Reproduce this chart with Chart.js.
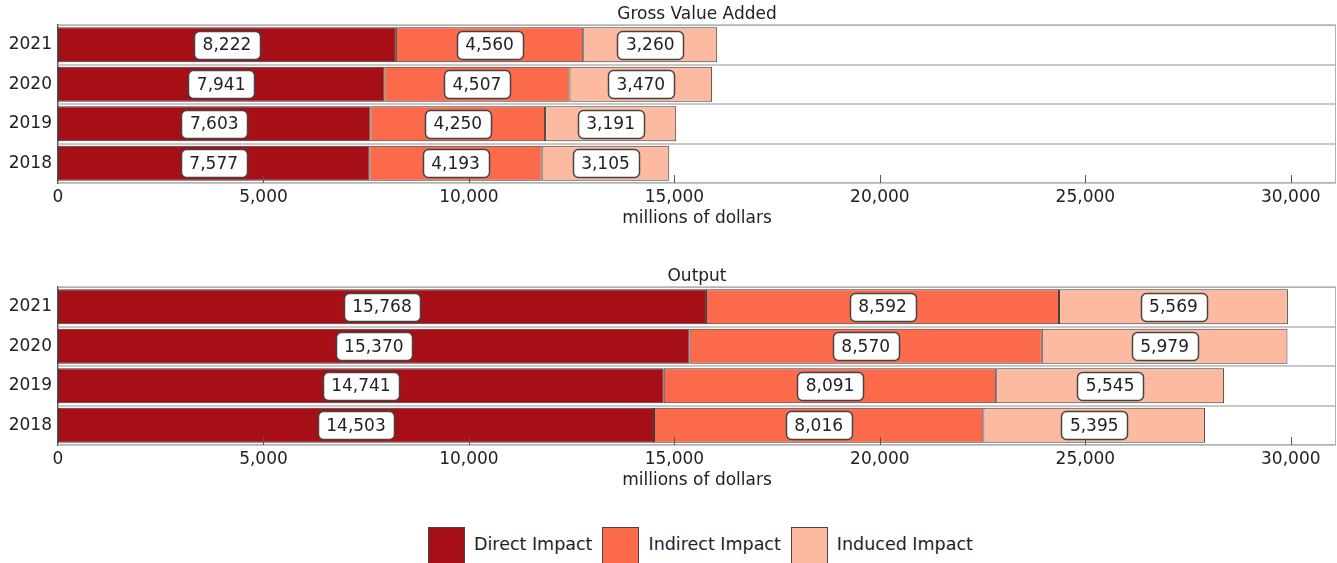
<!DOCTYPE html>
<html>
<head>
<meta charset="utf-8">
<script src="https://cdn.jsdelivr.net/npm/chart.js@4"></script>
<style>
  body { margin: 0; background: #fff; font-family: "DejaVu Sans", Verdana, sans-serif; }
  .wrap { position: absolute; left: 0; width: 1337px; }
  #legend { position: absolute; left: 428px; top: 527px; display: flex; font-size: 17.5px; color: #222; white-space: nowrap; }
  #legend .item { display: flex; align-items: flex-start; }
  #legend .box { width: 37px; height: 40px; border: 1px solid #444; box-sizing: border-box; margin-right: 9px; }
  #legend .label { margin-right: 10px; line-height: 34px; }
</style>
</head>
<body>
<div class="wrap" style="top:0"><canvas id="gvaChart" width="1337" height="232"></canvas></div>
<div class="wrap" style="top:262px"><canvas id="outputChart" width="1337" height="232"></canvas></div>
<div id="legend"></div>

<script>
const years = ['2021', '2020', '2019', '2018'];
const seriesNames = ['Direct Impact', 'Indirect Impact', 'Induced Impact'];
const seriesColors = ['#a50f15', '#fb6a4a', '#fcbba1'];

// Gross value added, millions of dollars
const gvaDirect = [8222, 7941, 7603, 7577];
const gvaIndirect = [4560, 4507, 4250, 4193];
const gvaInduced = [3260, 3470, 3191, 3105];

// Output, millions of dollars
const outDirect = [15768, 15370, 14741, 14503];
const outIndirect = [8592, 8570, 8091, 8016];
const outInduced = [5569, 5979, 5545, 5395];

const xTicks = [0, 5000, 10000, 15000, 20000, 25000, 30000];
const xMax = 31100;

const FONT = '"DejaVu Sans", Verdana, sans-serif';
const fmt = v => Number(v).toLocaleString('en-US');

// grey frame around the plot plus short tick marks pointing up from the bottom edge
const frameAndTicks = {
    id: 'frameAndTicks',
    beforeDatasetsDraw(chart) {
        const { ctx, chartArea: a } = chart;
        ctx.save();
        ctx.strokeStyle = '#b0b0b0';
        ctx.lineWidth = 1;
        ctx.strokeRect(a.left + 0.5, a.top + 0.5, a.right - a.left - 1, a.bottom - a.top - 1);
        ctx.restore();
    },
    afterDatasetsDraw(chart) {
        const { ctx, chartArea: a, scales } = chart;
        ctx.save();
        ctx.strokeStyle = '#555';
        ctx.lineWidth = 1;
        scales.x.ticks.forEach(t => {
            if (t.value === 0) return;
            const x = Math.round(scales.x.getPixelForValue(t.value)) + 0.5;
            ctx.beginPath();
            ctx.moveTo(x, a.bottom - 8);
            ctx.lineTo(x, a.bottom);
            ctx.stroke();
        });
        ctx.restore();
    }
};

// white rounded value boxes centred on each bar segment
const valueBoxes = {
    id: 'valueBoxes',
    afterDatasetsDraw(chart) {
        const ctx = chart.ctx;
        ctx.save();
        ctx.font = '17px ' + FONT;
        ctx.textAlign = 'center';
        ctx.textBaseline = 'middle';
        chart.data.datasets.forEach((ds, di) => {
            chart.getDatasetMeta(di).data.forEach((bar, i) => {
                const text = fmt(ds.data[i]);
                const w = ctx.measureText(text).width + 17;
                const h = 28;
                const cx = (bar.x + bar.base) / 2;
                const cy = bar.y;
                ctx.beginPath();
                ctx.roundRect(Math.round(cx - w / 2) + 0.5, Math.round(cy - h / 2) + 0.5, Math.round(w), h, 5);
                ctx.fillStyle = '#fff';
                ctx.fill();
                ctx.lineWidth = 1.5;
                ctx.strokeStyle = '#444';
                ctx.stroke();
                ctx.fillStyle = '#222';
                ctx.fillText(text, cx, cy + 1);
            });
        });
        ctx.restore();
    }
};

function makeChart(id, title, direct, indirect, induced) {
    const values = [direct, indirect, induced];
    return new Chart(document.getElementById(id), {
        type: 'bar',
        data: {
            labels: years,
            datasets: seriesNames.map((name, i) => ({
                label: name,
                data: values[i],
                backgroundColor: seriesColors[i],
                borderColor: '#3a3a3a',
                borderWidth: 1,
                borderSkipped: false,
                barPercentage: 0.885,
                categoryPercentage: 1
            }))
        },
        options: {
            indexAxis: 'y',
            responsive: false,
            animation: false,
            layout: { padding: { left: 0, right: 1, top: 0, bottom: 0 } },
            scales: {
                x: {
                    stacked: true,
                    min: 0,
                    max: xMax,
                    grid: { display: false, drawTicks: false },
                    border: { display: false },
                    afterBuildTicks(scale) {
                        scale.ticks = xTicks.map(v => ({ value: v }));
                    },
                    ticks: {
                        padding: 4,
                        color: '#222',
                        font: { family: FONT, size: 17 },
                        callback: v => fmt(v)
                    },
                    title: {
                        display: true,
                        text: 'millions of dollars',
                        color: '#222',
                        font: { family: FONT, size: 17 },
                        padding: { top: 0, bottom: 3 }
                    },
                    afterFit(scale) { scale.height = 49; }
                },
                y: {
                    stacked: true,
                    grid: { offset: true, color: '#c8c8c8', lineWidth: 2, drawTicks: false },
                    border: { color: '#555', width: 1.5 },
                    ticks: {
                        padding: 6,
                        color: '#222',
                        font: { family: FONT, size: 17 }
                    },
                    afterFit(scale) { scale.width = 58; }
                }
            },
            plugins: {
                legend: { display: false },
                tooltip: { enabled: false },
                title: {
                    display: true,
                    text: title,
                    fullSize: false,
                    color: '#222',
                    font: { family: FONT, size: 17, weight: 'normal', lineHeight: 1 },
                    padding: { top: 6, bottom: 2 }
                }
            }
        },
        plugins: [frameAndTicks, valueBoxes]
    });
}

makeChart('gvaChart', 'Gross Value Added', gvaDirect, gvaIndirect, gvaInduced);
makeChart('outputChart', 'Output', outDirect, outIndirect, outInduced);

// shared legend under both charts
const legend = document.getElementById('legend');
seriesNames.forEach((name, i) => {
    const item = document.createElement('div');
    item.className = 'item';
    item.innerHTML = `<div class="box" style="background:${seriesColors[i]}"></div><span class="label">${name}</span>`;
    legend.appendChild(item);
});
</script>
</body>
</html>
